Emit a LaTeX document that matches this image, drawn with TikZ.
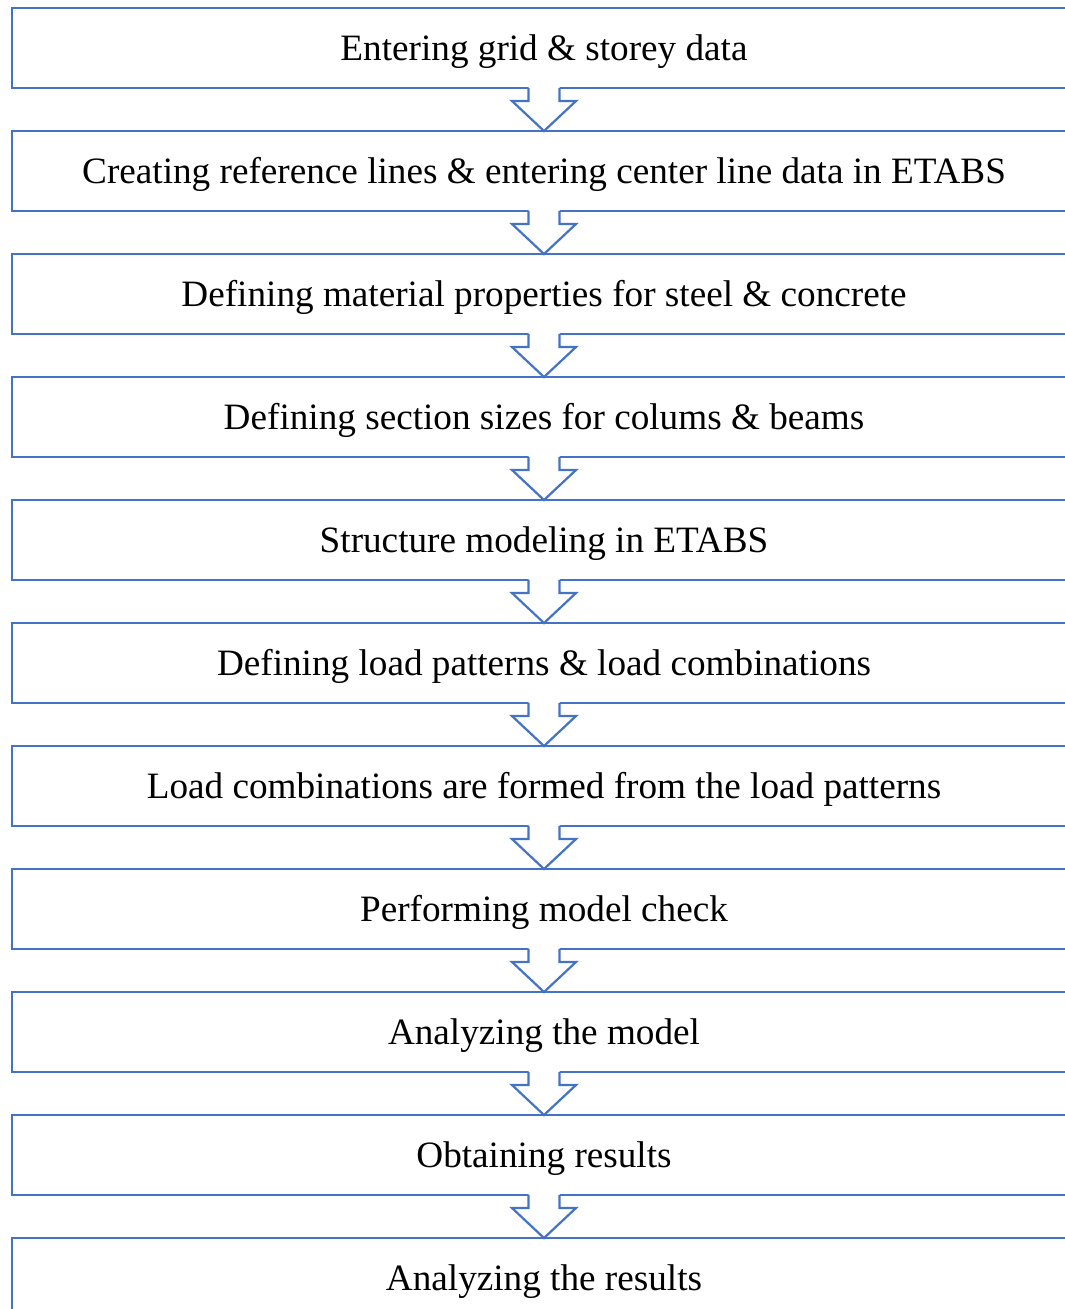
\documentclass[tikz,border=0pt]{standalone}
\usepackage{fontspec}
\setmainfont{Liberation Serif}
\usetikzlibrary{calc}
\definecolor{flowblue}{HTML}{4472C4}
\begin{document}
\begin{tikzpicture}[x=1pt,y=-1pt,
  stepbox/.style={draw=flowblue,line width=2.3pt,minimum width=1064pt,minimum height=80pt,
    inner sep=0pt,outer sep=0pt,font=\fontsize{37.2}{42}\selectfont,anchor=north west,
    text height=24.6pt,text depth=0pt},
  flowarrow/.style={draw=flowblue,line width=2.2pt,line join=miter}]
\useasboundingbox (0,0) rectangle (1065,1309);
\foreach \i/\t in {
  1/{Entering grid \& storey data},
  2/{Creating reference lines \& entering center line data in ETABS},
  3/{Defining material properties for steel \& concrete},
  4/{Defining section sizes for colums \& beams},
  5/{Structure modeling in ETABS},
  6/{Defining load patterns \& load combinations},
  7/{Load combinations are formed from the load patterns},
  8/{Performing model check},
  9/{Analyzing the model},
  10/{Obtaining results},
  11/{Analyzing the results}}
  \node[stepbox] (b\i) at (12,{8+123*(\i-1)}) {\t};
\foreach \i [evaluate=\i as \j using int(\i+1)] in {1,...,10} {
  \fill[white] ($(b\i.south)+(-15.5,-2)$) -- ($(b\i.south)+(-15.5,13)$) -- ($(b\i.south)+(-32,13)$)
    -- (b\j.north) -- ($(b\i.south)+(32,13)$) -- ($(b\i.south)+(15.5,13)$) -- ($(b\i.south)+(15.5,-2)$) -- cycle;
  \draw[flowarrow] ($(b\i.south)+(-15.5,0)$) -- ($(b\i.south)+(-15.5,13)$) -- ($(b\i.south)+(-32,13)$)
    -- (b\j.north) -- ($(b\i.south)+(32,13)$) -- ($(b\i.south)+(15.5,13)$) -- ($(b\i.south)+(15.5,0)$);
}
\end{tikzpicture}
\end{document}
